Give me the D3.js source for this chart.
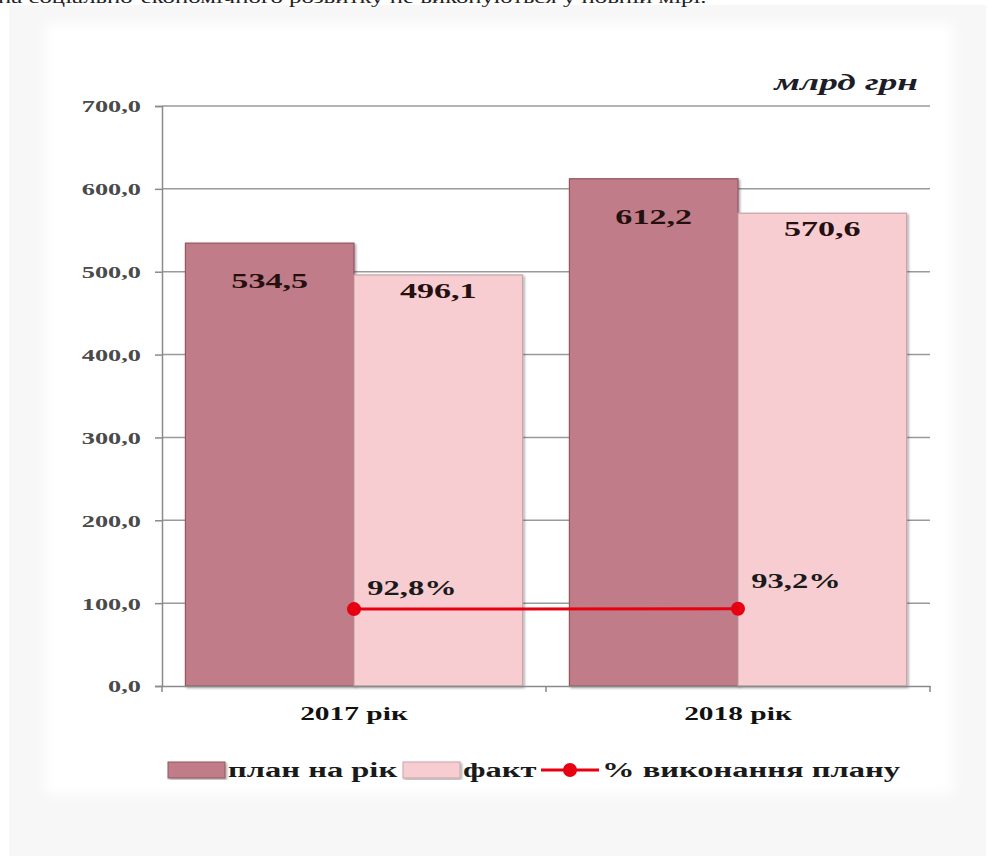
<!DOCTYPE html>
<html>
<head>
<meta charset="utf-8">
<script src="https://cdn.jsdelivr.net/npm/d3@7"></script>
<style>
  html, body { margin: 0; padding: 0; background: #fff; }
  svg { display: block; }
  svg text { font-family: "Liberation Serif", "Times New Roman", "DejaVu Serif", serif; }
</style>
</head>
<body>
<svg id="chart" width="995" height="856"></svg>
<script>
/* ── Data ─────────────────────────────────────────── */
const years    = ['2017 рік', '2018 рік'];
const planVals = [534.5, 612.2];
const factVals = [496.1, 570.6];
const pctVals  = [92.8, 93.2];
const yTicks   = [0, 100, 200, 300, 400, 500, 600, 700];
const seriesNames = ['план на рік', 'факт', '% виконання плану'];

const fmt = v => d3.format('.1f')(v).replace('.', ',');

/* ── Layout ───────────────────────────────────────── */
const svg = d3.select('#chart');
const M = { left: 162, right: 930, top: 106, bottom: 686 };
const K = 1.55;   // the source image is stretched sideways, text too

const PLAN = '#c07b88', PLAN_EDGE = '#94545f';
const FACT = '#f7cdd2', FACT_EDGE = '#c9a3a8';
const RED  = '#e60012';

// place a text stretched horizontally around its anchor point
function wide(sel, x, y) {
  sel.attr('transform', `translate(${x},${y}) scale(${K},1)`).attr('x', 0).attr('y', 0);
  return sel;
}

const defs = svg.append('defs');
defs.append('filter').attr('id', 'soft')
  .append('feGaussianBlur').attr('stdDeviation', 6);
defs.append('filter').attr('id', 'shade')
  .append('feDropShadow')
  .attr('dx', 1.5).attr('dy', 1.5).attr('stdDeviation', 1.2)
  .attr('flood-color', '#000').attr('flood-opacity', 0.35);

// soft gray page panel + white chart area
svg.append('rect').attr('x', 9).attr('y', 5).attr('width', 977).attr('height', 851)
  .attr('fill', '#f7f7f7');
svg.append('rect').attr('x', 45).attr('y', 24).attr('width', 908).attr('height', 770)
  .attr('fill', '#fff').attr('filter', 'url(#soft)');

// cropped line of text from the page above
svg.append('text')
  .call(wide, -2, 3)
  .style('font-size', '16px').style('fill', '#222')
  .text('на соціально-економічного розвитку не виконуються у повній мірі.');

/* ── Scales ───────────────────────────────────────── */
const x = d3.scaleBand().domain(years).range([M.left, M.right])
  .paddingInner(0.122).paddingOuter(0.061);
const xs = d3.scaleBand().domain(['plan', 'fact']).range([0, x.bandwidth()]);
const y = d3.scaleLinear().domain([0, 700]).range([M.bottom, M.top]);

/* ── Grid & axes ─────────────────────────────────── */
svg.append('g').selectAll('line').data(yTicks.filter(d => d > 0)).join('line')
  .attr('x1', M.left).attr('x2', M.right)
  .attr('y1', d => y(d)).attr('y2', d => y(d))
  .attr('stroke', '#9a9a9a').attr('stroke-width', 1.5);

const yAxis = svg.append('g').attr('transform', `translate(${M.left},0)`)
  .call(d3.axisLeft(y).tickValues(yTicks).tickFormat(fmt).tickSize(7))
  .attr('font-family', null);
yAxis.select('.domain').attr('stroke', '#8a8a8a').attr('stroke-width', 1.5);
yAxis.selectAll('.tick line').attr('stroke', '#8a8a8a').attr('stroke-width', 1.5);
yAxis.selectAll('.tick text')
  .each(function () { wide(d3.select(this), -21, 0); })
  .attr('dy', '0.35em')
  .style('font-size', '17px').style('font-weight', 'bold').style('fill', '#4a4a4a');

/* ── Bars ─────────────────────────────────────────── */
const bars = [];
years.forEach((yr, i) => {
  bars.push({ yr, key: 'plan', v: planVals[i] });
  bars.push({ yr, key: 'fact', v: factVals[i] });
});

svg.append('g').selectAll('rect').data(bars).join('rect')
  .attr('x', d => x(d.yr) + xs(d.key))
  .attr('y', d => y(d.v))
  .attr('width', xs.bandwidth())
  .attr('height', d => y(0) - y(d.v))
  .attr('fill', d => d.key === 'plan' ? PLAN : FACT)
  .attr('stroke', d => d.key === 'plan' ? PLAN_EDGE : FACT_EDGE)
  .attr('stroke-width', 1.2)
  .attr('filter', 'url(#shade)');

svg.append('g').selectAll('text').data(bars).join('text')
  .each(function (d) {
    wide(d3.select(this),
      x(d.yr) + xs(d.key) + xs.bandwidth() / 2,
      y(d.v) + (d.key === 'plan' ? 45 : 23));
  })
  .attr('text-anchor', 'middle')
  .style('font-size', '22px').style('font-weight', 'bold').style('fill', '#24100f')
  .text(d => fmt(d.v));

// baseline with category ticks
const xAxis = svg.append('g').attr('transform', `translate(0,${M.bottom})`)
  .call(d3.axisBottom(x).tickSize(0))
  .attr('font-family', null);
xAxis.select('.domain').attr('stroke', '#8a8a8a').attr('stroke-width', 1.5);
xAxis.selectAll('.tick text')
  .each(function () { wide(d3.select(this), 0, 34); })
  .attr('dy', null)
  .style('font-size', '19px').style('font-weight', 'bold').style('fill', '#111');
svg.append('g').selectAll('line')
  .data([M.left, x(years[1]) - x.step() * x.paddingInner() / 2, M.right]).join('line')
  .attr('x1', d => d).attr('x2', d => d)
  .attr('y1', M.bottom).attr('y2', M.bottom + 6)
  .attr('stroke', '#8a8a8a').attr('stroke-width', 1.5);

/* ── % line ───────────────────────────────────────── */
const pts = years.map((yr, i) => ({ yr, v: pctVals[i], cx: x(yr) + x.bandwidth() / 2 }));
svg.append('path').datum(pts)
  .attr('d', d3.line().x(d => d.cx).y(d => y(d.v)))
  .attr('fill', 'none').attr('stroke', RED).attr('stroke-width', 3);
svg.append('g').selectAll('circle').data(pts).join('circle')
  .attr('cx', d => d.cx).attr('cy', d => y(d.v)).attr('r', 7)
  .attr('fill', RED);
svg.append('g').selectAll('text').data(pts).join('text')
  .each(function (d, i) {
    wide(d3.select(this), d.cx + 58, y(d.v) - (i === 0 ? 14 : 21));
  })
  .attr('text-anchor', 'middle')
  .style('font-size', '21px').style('font-weight', 'bold').style('fill', '#1a1a1a')
  .text(d => fmt(d.v) + '%');

/* ── Unit label ───────────────────────────────────── */
svg.append('text')
  .call(wide, 918, 90)
  .attr('text-anchor', 'end')
  .style('font-size', '24px').style('font-weight', 'bold').style('font-style', 'italic')
  .style('fill', '#1d1d2a')
  .text('млрд грн');

/* ── Legend ───────────────────────────────────────── */
const lg = svg.append('g').attr('transform', 'translate(168,770)');
const lgStyle = s => s.style('font-size', '21px').style('font-weight', 'bold').style('fill', '#1a1a1a');

lg.append('rect').attr('x', 0).attr('y', -8).attr('width', 57).attr('height', 16)
  .attr('fill', PLAN).attr('stroke', PLAN_EDGE).attr('filter', 'url(#shade)');
lg.append('text').call(wide, 60, 7).call(lgStyle).text(seriesNames[0]);

lg.append('rect').attr('x', 235).attr('y', -8).attr('width', 57).attr('height', 16)
  .attr('fill', FACT).attr('stroke', FACT_EDGE).attr('filter', 'url(#shade)');
lg.append('text').call(wide, 295, 7).call(lgStyle).text(seriesNames[1]);

lg.append('line').attr('x1', 373).attr('x2', 431).attr('y1', 0).attr('y2', 0)
  .attr('stroke', RED).attr('stroke-width', 3);
lg.append('circle').attr('cx', 402).attr('cy', 0).attr('r', 7).attr('fill', RED);
lg.append('text').call(wide, 434, 7).call(lgStyle).text(seriesNames[2]);
</script>
</body>
</html>
